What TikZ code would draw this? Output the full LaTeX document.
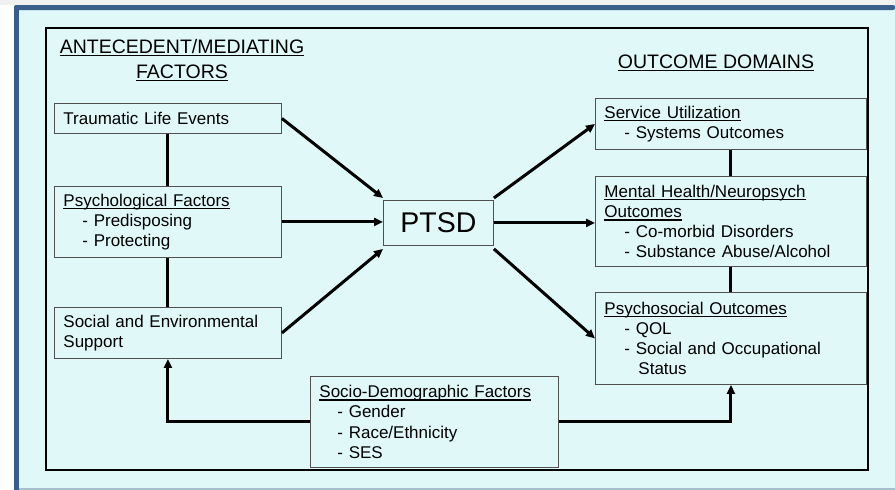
\documentclass[tikz,border=0pt]{standalone}
\usepackage{fontspec}
\setmainfont{Liberation Sans}
\usetikzlibrary{arrows.meta,calc}
\definecolor{bgcyan}{HTML}{E0F8F8}
\definecolor{slateblue}{HTML}{3A5E8C}
\definecolor{boxgray}{HTML}{505050}
\definecolor{edgegray}{HTML}{A8BECB}
\newcommand{\ulx}[1]{\leavevmode\setbox0\hbox{#1}\rlap{\rule[-3.2pt]{\wd0}{1.3pt}}\box0}
\tikzset{
  box/.style={draw=boxgray, line width=0.9pt, rectangle, anchor=north west,
    align=left, inner xsep=9pt, inner ysep=0pt,
    font=\fontsize{17}{20.3}\selectfont},
  heading/.style={anchor=base, inner sep=0pt, font=\fontsize{19.5}{24}\selectfont},
  conn/.style={line width=3pt, black},
  arr/.style={conn, -{Triangle[length=9pt,width=8pt]}},
}
\begin{document}
\begin{tikzpicture}[x=1pt,y=-1pt]
\useasboundingbox (0,0) rectangle (895,490);
% background
\fill[white] (0,0) rectangle (895,490);
\fill[black!6] (0,0) rectangle (895,5);
\fill[bgcyan] (14,5) rectangle (895,488);
\fill[edgegray] (14,488) rectangle (895,490);
\fill[slateblue, rounded corners=2pt] (14,5) rectangle (895,10);
\fill[slateblue] (14,7) rectangle (19,490);
% frame
\draw[black, line width=2pt] (45.7,28.3) rectangle (868,470);
% headings
\node[heading] (h1) at (182,53) {\ulx{ANTECEDENT/MEDIATING}};
\node[heading] (h2) at (182,78) {\ulx{FACTORS}};
\node[heading] (h3) at (716,68) {\ulx{OUTCOME DOMAINS}};
% left boxes
\node[box, text width=209pt, minimum height=30pt] (tle) at (54,103) {Traumatic Life Events};
\node[box, text width=209pt, minimum height=71pt] (psy) at (54,186)
  {\ulx{Psychological Factors}\\\hspace*{19pt}- Predisposing\\\hspace*{19pt}- Protecting};
\node[box, text width=209pt, minimum height=51pt] (soc) at (54,307)
  {Social and Environmental\\Support};
% PTSD
\node[draw=boxgray, line width=0.9pt, anchor=north west, minimum width=110pt,
  minimum height=45pt, inner sep=0pt, font=\fontsize{28.5}{32}\selectfont] (ptsd) at (383,200) {PTSD};
% socio-demographic
\node[box, text width=230pt, minimum height=91pt] (dem) at (310,376)
  {\ulx{Socio-Demographic Factors}\\\hspace*{18pt}- Gender\\\hspace*{18pt}- Race/Ethnicity\\\hspace*{18pt}- SES};
% right boxes
\node[box, text width=253pt, minimum height=51pt] (srv) at (595,98)
  {\ulx{Service Utilization}\\\hspace*{20pt}- Systems Outcomes};
\node[box, text width=253pt, minimum height=90pt] (mhn) at (595,176)
  {\ulx{Mental Health/Neuropsych}\\\ulx{Outcomes}\\\hspace*{20pt}- Co-morbid Disorders\\\hspace*{20pt}- Substance Abuse/Alcohol};
\node[box, text width=253pt, minimum height=92pt] (pso) at (595,292)
  {\ulx{Psychosocial Outcomes}\\\hspace*{20pt}- QOL\\\hspace*{20pt}- Social and Occupational\\\hspace*{34pt}Status};
% connectors
\draw[conn] (tle.south) -- (psy.north);
\draw[conn] (psy.south) -- (soc.north);
\draw[conn] (srv.south) -- (mhn.north);
\draw[conn] (mhn.south) -- (pso.north);
\draw[arr] (tle.east) -- ($(ptsd.north west)+(0,-2)$);
\draw[arr] (psy.east) -- (psy.east -| ptsd.west);
\draw[arr] (soc.east) -- ($(ptsd.south west)+(0,3)$);
\draw[arr] ($(ptsd.north east)+(0,-2)$) -- (srv.west);
\draw[arr] (ptsd.east) -- (ptsd.east -| mhn.west);
\draw[arr] ($(ptsd.south east)+(0,3)$) -- (pso.west);
\draw[arr] (dem.west) -| (soc.south);
\draw[arr] (dem.east) -| (pso.south);
\end{tikzpicture}
\end{document}
